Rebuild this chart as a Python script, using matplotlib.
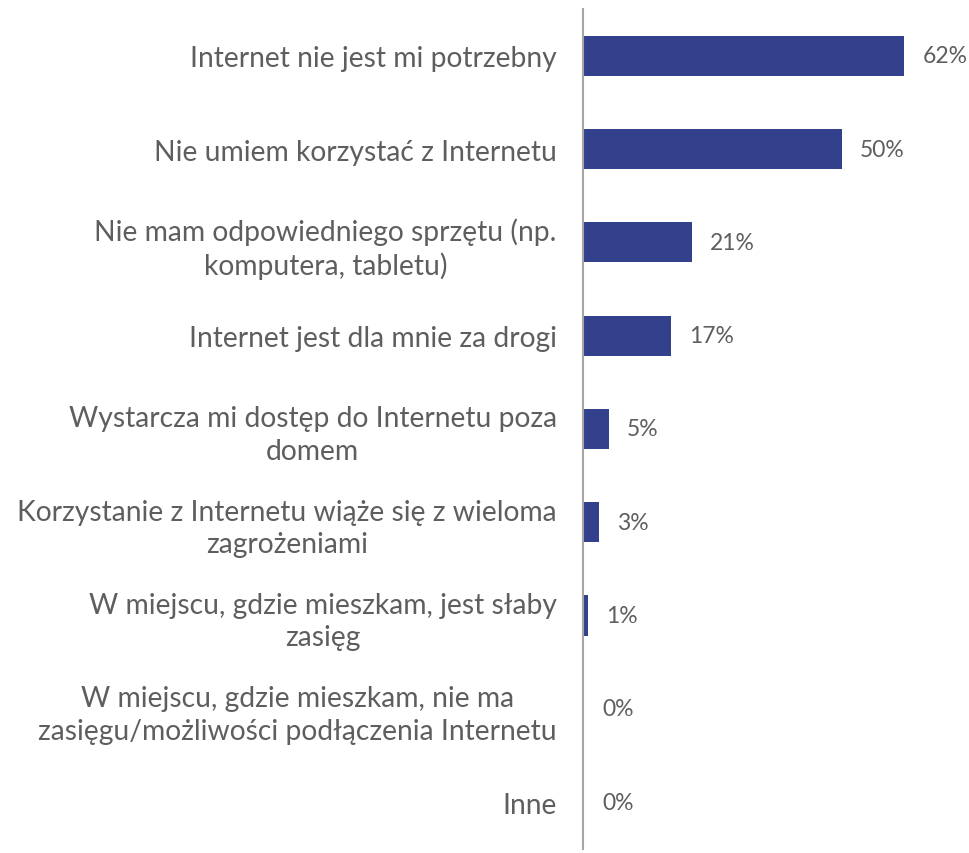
import matplotlib
matplotlib.use("Agg")
import matplotlib.pyplot as plt
from matplotlib.transforms import offset_copy

plt.rcParams['font.family'] = ['Lato', 'DejaVu Sans']

categories = [
    "Internet nie jest mi potrzebny",
    "Nie umiem korzystać z Internetu",
    "Nie mam odpowiedniego sprzętu (np.\nkomputera, tabletu)",
    "Internet jest dla mnie za drogi",
    "Wystarcza mi dostęp do Internetu poza\ndomem",
    "Korzystanie z Internetu wiąże się z wieloma\nzagrożeniami",
    "W miejscu, gdzie mieszkam, jest słaby\nzasięg",
    "W miejscu, gdzie mieszkam, nie ma\nzasięgu/możliwości podłączenia Internetu",
    "Inne",
]
values = [62, 50, 21, 17, 5, 3, 1, 0.2, 0.2]

bar_color = "#33418C"
text_color = "#5E5E5E"

fig = plt.figure(figsize=(9.69, 8.54), dpi=100)
ax = fig.add_axes([0.6017, 0.005, 0.3743, 0.983])

y = list(range(len(categories)))
ax.barh(y, values, height=0.43, color=bar_color)
ax.set_ylim(len(categories) - 0.5, -0.5)
ax.set_xlim(0, 70)

for yi, v in zip(y, values):
    tr = offset_copy(ax.transData, fig=fig, x=13, y=0, units='points')
    ax.text(v, yi, f"{round(v)}%", transform=tr, ha='left', va='center',
            fontsize=16.5, color=text_color)

ax.set_yticks(y)
ax.set_yticklabels(categories, fontsize=20.3, color=text_color, ha='right',
                   multialignment='center', linespacing=1.3)
ax.tick_params(axis='y', length=0, pad=19)
ax.set_xticks([])

for s in ['top', 'right', 'bottom']:
    ax.spines[s].set_visible(False)
ax.spines['left'].set_color("#A6A6A6")
ax.spines['left'].set_linewidth(1.5)

fig.savefig("out.png", dpi=100, facecolor="white")
